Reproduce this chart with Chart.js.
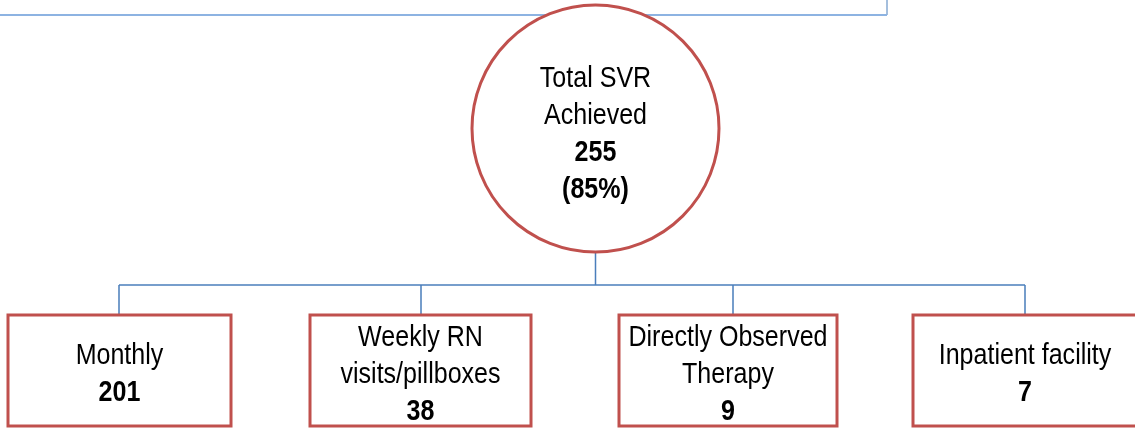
<!DOCTYPE html>
<html>
<head>
<meta charset="utf-8">
<script src="https://cdn.jsdelivr.net/npm/chart.js@4.4.1/dist/chart.umd.min.js"></script>
<style>
  html, body { margin: 0; padding: 0; background: #fff; }
  #wrap { width: 1135px; height: 428px; position: relative; }
</style>
</head>
<body>
<div id="wrap"><canvas id="flow" width="1135" height="428"></canvas></div>
<script>
(function(){
  // --- Data ------------------------------------------------------------------
  var rootLabel   = ['Total SVR', 'Achieved'];
  var rootCount   = 255;
  var rootPct     = '85%';
  var groupLabels = [['Monthly'], ['Weekly RN', 'visits/pillboxes'], ['Directly Observed', 'Therapy'], ['Inpatient facility']];
  var groupCounts = [201, 38, 9, 7];

  // --- Layout (in canvas units, used through the scales) ---------------------
  var W = 1135, H = 428;
  var root   = { x: 595.5, y: 128.5, r: 123.5 };
  var busY   = 285;
  var boxTop = 315, boxBottom = 426;
  var boxLeft  = [8, 310, 619, 913];
  var boxRight = [231, 531, 837, 1145];
  var dropX    = [119, 421, 733, 1025];
  var topBox   = { right: 887, bottom: 15 };

  var RED  = '#c0504d';
  var BLUE = '#4a7ebb';
  var FONT_PX = 30;
  var FONT = '"Liberation Sans Narrow", "Arial Narrow", "Liberation Sans", Arial, sans-serif';

  // condensed look: if no narrow face is installed, squeeze the regular one
  function narrowFactor(ctx){
    ctx.font = FONT_PX + 'px "Liberation Sans Narrow", monospace';
    var a = ctx.measureText('Inpatient facility').width;
    ctx.font = FONT_PX + 'px monospace';
    var b = ctx.measureText('Inpatient facility').width;
    return Math.abs(a - b) > 1 ? 1 : 0.835;
  }

  function seg(points, color, width){
    return {
      type: 'scatter', data: points, showLine: true,
      borderColor: color, borderWidth: width || 1.5,
      pointRadius: 0, fill: false, order: 2, clip: false
    };
  }

  var datasets = [];
  // root node (circle)
  datasets.push({
    type: 'scatter', data: [{ x: root.x, y: root.y }],
    pointRadius: root.r, pointStyle: 'circle',
    borderColor: RED, borderWidth: 3, backgroundColor: '#fff',
    order: 0, clip: false
  });
  // box above (only its lower edge shows)
  datasets.push(seg([{ x: -5, y: topBox.bottom }, { x: topBox.right, y: topBox.bottom }], '#8db3e2', 2));
  datasets.push(seg([{ x: topBox.right, y: topBox.bottom }, { x: topBox.right, y: -5 }], BLUE, 1));
  // connectors
  datasets.push(seg([{ x: root.x, y: root.y + root.r }, { x: root.x, y: busY }], BLUE));
  datasets.push(seg([{ x: dropX[0], y: busY }, { x: dropX[dropX.length - 1], y: busY }], BLUE));
  dropX.forEach(function(dx){
    datasets.push(seg([{ x: dx, y: busY }, { x: dx, y: boxTop }], BLUE));
  });

  function drawLines(ctx, lines, x, y0, lh, sx){
    lines.forEach(function(l, k){
      ctx.save();
      ctx.translate(x, y0 + k * lh);
      ctx.scale(sx, 1);
      ctx.font = (l.b ? 'bold ' : '') + FONT_PX + 'px ' + FONT;
      ctx.fillText(l.t, 0, 0);
      ctx.restore();
    });
  }

  // boxes + text drawn via the scales
  var nodesPlugin = {
    id: 'nodes',
    afterDatasetsDraw: function(chart){
      var ctx = chart.ctx;
      var xs = chart.scales.x, ys = chart.scales.y;
      var lh = 37;
      var sx = narrowFactor(ctx);

      ctx.save();
      ctx.textAlign = 'center';
      ctx.textBaseline = 'middle';
      ctx.fillStyle = '#000';

      // root text
      var cx = xs.getPixelForValue(root.x);
      var rootLines = rootLabel.map(function(t){ return { t: t, b: false }; })
        .concat([{ t: String(rootCount), b: true }, { t: '(' + rootPct + ')', b: true }]);
      var startY = ys.getPixelForValue(root.y) - lh * (rootLines.length - 1) / 2 + 6;
      drawLines(ctx, rootLines, cx, startY, lh, sx);

      // child boxes
      groupLabels.forEach(function(lbls, i){
        var x0 = xs.getPixelForValue(boxLeft[i]);
        var x1 = xs.getPixelForValue(boxRight[i]);
        var y0 = ys.getPixelForValue(boxTop);
        var y1 = ys.getPixelForValue(boxBottom);
        ctx.fillStyle = '#fff';
        ctx.fillRect(x0, y0, x1 - x0, y1 - y0);
        ctx.strokeStyle = RED;
        ctx.lineWidth = 3;
        ctx.strokeRect(x0, y0, x1 - x0, y1 - y0);

        var lines = lbls.map(function(t){ return { t: t, b: false }; })
          .concat([{ t: String(groupCounts[i]), b: true }]);
        var mx = (x0 + x1) / 2;
        if (x1 > chart.width) mx = xs.getPixelForValue(dropX[i]);
        var my = (y0 + y1) / 2 + 4 - lh * (lines.length - 1) / 2;
        ctx.fillStyle = '#000';
        drawLines(ctx, lines, mx, my, lh, sx);
      });
      ctx.restore();
    }
  };

  new Chart(document.getElementById('flow').getContext('2d'), {
    type: 'scatter',
    data: { datasets: datasets },
    options: {
      responsive: false,
      animation: false,
      events: [],
      layout: { padding: 0, autoPadding: false },
      scales: {
        x: { type: 'linear', min: 0, max: W, display: false },
        y: { type: 'linear', min: 0, max: H, reverse: true, display: false }
      },
      plugins: { legend: { display: false }, tooltip: { enabled: false } }
    },
    plugins: [nodesPlugin]
  });
})();
</script>
</body>
</html>
